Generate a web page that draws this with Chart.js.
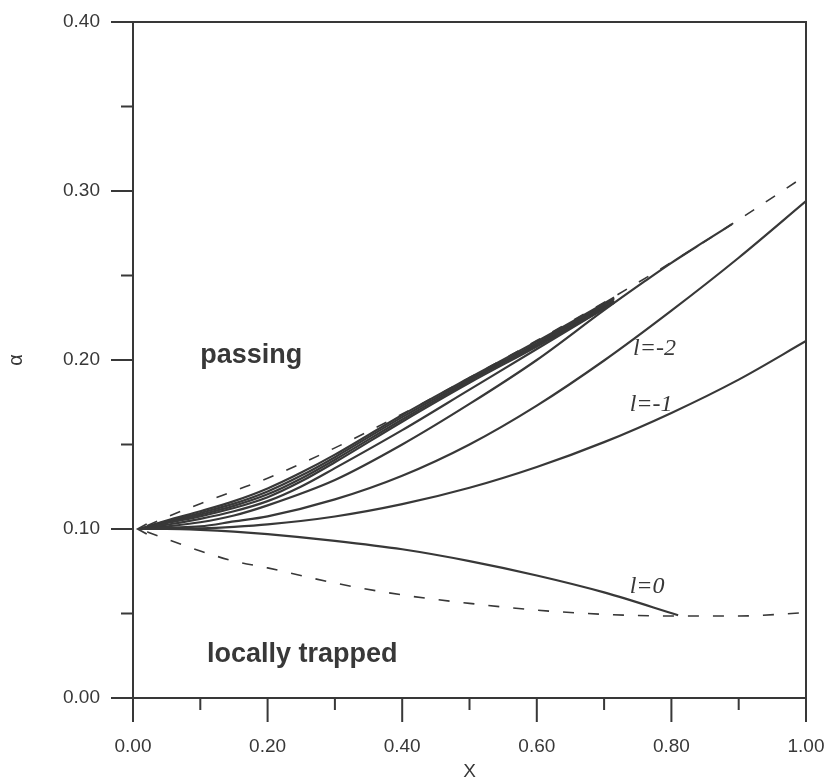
<!DOCTYPE html>
<html>
<head>
<meta charset="utf-8">
<script src="https://cdn.jsdelivr.net/npm/chart.js@4"></script>
<style>
  html, body { margin: 0; padding: 0; background: #fff; }
  canvas { display: block; }
</style>
</head>
<body>
<canvas id="chart" width="831" height="783"></canvas>
<script>
// values (x = X, y = alpha)
const xFull = [0.01, 0.05, 0.10, 0.15, 0.20, 0.30, 0.40, 0.50, 0.60, 0.70, 0.80, 0.90, 1.00];
const upperEdge = [0.100, 0.107, 0.115, 0.1225, 0.130, 0.148, 0.168, 0.1895, 0.2115, 0.2340, 0.2578, 0.2830, 0.3093];
const lowerEdge = [0.100, 0.094, 0.087, 0.081, 0.077, 0.068, 0.061, 0.056, 0.052, 0.0495, 0.0485, 0.0485, 0.0505];
const lMinus1 = [0.100, 0.1001, 0.1004, 0.1013, 0.1027, 0.1074, 0.1147, 0.1244, 0.1367, 0.1514, 0.1687, 0.1884, 0.2112];
const lMinus2 = [0.100, 0.1008, 0.1015, 0.1045, 0.1075, 0.1175, 0.1315, 0.150, 0.173, 0.1997, 0.2292, 0.2605, 0.294];

const xL0 = [0.01, 0.05, 0.10, 0.15, 0.20, 0.30, 0.40, 0.50, 0.60, 0.70, 0.81];
const l0 = [0.100, 0.100, 0.0995, 0.0985, 0.097, 0.093, 0.088, 0.081, 0.0725, 0.0625, 0.049];

// l=-3 runs onto the upper edge and follows it to X = 0.89
const xL3 = [0.01, 0.05, 0.10, 0.15, 0.20, 0.30, 0.40, 0.50, 0.60, 0.70, 0.76, 0.80, 0.85, 0.89];
const lMinus3 = [0.100, 0.1015, 0.104, 0.108, 0.114, 0.129, 0.150, 0.174, 0.200, 0.2295, 0.2465, 0.2575, 0.2703, 0.2804];

// the tight bundle that runs into the upper edge near X = 0.71
const xBundle = [0.01, 0.05, 0.10, 0.15, 0.20, 0.25, 0.30, 0.40, 0.50, 0.60, 0.70, 0.715];
const lMinus4 = [0.100, 0.1025, 0.106, 0.1105, 0.1165, 0.1252, 0.1360, 0.1585, 0.1825, 0.2065, 0.2305, 0.2340];
const lMinus5 = [0.100, 0.1035, 0.1075, 0.1124, 0.1188, 0.1282, 0.1395, 0.1635, 0.1865, 0.2080, 0.2305, 0.2340];
const lMinus6 = [0.100, 0.104, 0.1085, 0.1137, 0.1205, 0.1299, 0.1410, 0.1648, 0.1875, 0.2090, 0.2315, 0.2350];
const lMinus7 = [0.100, 0.1045, 0.1095, 0.1150, 0.1222, 0.1316, 0.1425, 0.1662, 0.1885, 0.2100, 0.2325, 0.2360];
const lMinus8 = [0.100, 0.105, 0.1105, 0.1165, 0.1240, 0.1334, 0.1440, 0.1675, 0.1895, 0.2110, 0.2335, 0.2370];

const xMajorTicks = [0, 0.2, 0.4, 0.6, 0.8, 1.0];
const xMinorTicks = [0.1, 0.3, 0.5, 0.7, 0.9];
const yMajorTicks = [0, 0.1, 0.2, 0.3, 0.4];
const yMinorTicks = [0.05, 0.15, 0.25, 0.35];

const ink = '#383838';

const notes = [
    { text: 'passing', x: 0.10, y: 0.198, font: 'bold 27px "Liberation Sans", Arial, sans-serif' },
    { text: 'locally trapped', x: 0.110, y: 0.0213, font: 'bold 27px "Liberation Sans", Arial, sans-serif' },
    { text: 'l=-2', x: 0.743, y: 0.203, font: 'italic 24px "Liberation Serif", "Times New Roman", serif' },
    { text: 'l=-1', x: 0.738, y: 0.170, font: 'italic 24px "Liberation Serif", "Times New Roman", serif' },
    { text: 'l=0', x: 0.738, y: 0.062, font: 'italic 24px "Liberation Serif", "Times New Roman", serif' }
];

function pts(xs, ys) {
    return xs.map((x, i) => ({ x, y: ys[i] }));
}

function solid(xs, ys) {
    return {
        data: pts(xs, ys),
        borderColor: ink,
        borderWidth: 2.2,
        pointRadius: 0,
        showLine: true,
        fill: false,
        cubicInterpolationMode: 'monotone'
    };
}

function dashed(xs, ys) {
    return {
        data: pts(xs, ys),
        borderColor: ink,
        borderWidth: 1.6,
        borderDash: [11, 14],
        borderDashOffset: -8,
        pointRadius: 0,
        showLine: true,
        fill: false,
        cubicInterpolationMode: 'monotone'
    };
}

const paperPlugin = {
    id: 'paper',
    afterDraw(chart) {
        const { ctx, chartArea: a, scales: { x, y } } = chart;
        ctx.save();
        ctx.strokeStyle = ink;
        ctx.lineWidth = 2;
        ctx.strokeRect(a.left, a.top, a.right - a.left, a.bottom - a.top);

        ctx.beginPath();
        xMajorTicks.forEach(v => {
            const px = x.getPixelForValue(v);
            ctx.moveTo(px, a.bottom); ctx.lineTo(px, a.bottom + 24);
        });
        xMinorTicks.forEach(v => {
            const px = x.getPixelForValue(v);
            ctx.moveTo(px, a.bottom); ctx.lineTo(px, a.bottom + 12);
        });
        yMajorTicks.forEach(v => {
            const py = y.getPixelForValue(v);
            ctx.moveTo(a.left, py); ctx.lineTo(a.left - 22, py);
        });
        yMinorTicks.forEach(v => {
            const py = y.getPixelForValue(v);
            ctx.moveTo(a.left, py); ctx.lineTo(a.left - 12, py);
        });
        ctx.stroke();

        // small open arrow where the curves meet
        const sx = x.getPixelForValue(xFull[0]) - 2;
        const sy = y.getPixelForValue(upperEdge[0]);
        ctx.lineWidth = 1.8;
        ctx.beginPath();
        ctx.moveTo(sx + 9, sy - 5);
        ctx.lineTo(sx, sy);
        ctx.lineTo(sx + 9, sy + 5);
        ctx.stroke();

        ctx.fillStyle = ink;
        ctx.textAlign = 'left';
        ctx.textBaseline = 'alphabetic';
        notes.forEach(n => {
            ctx.font = n.font;
            ctx.fillText(n.text, x.getPixelForValue(n.x), y.getPixelForValue(n.y));
        });
        ctx.restore();
    }
};

const tickFont = { family: '"Liberation Sans", Arial, sans-serif', size: 19 };

new Chart(document.getElementById('chart'), {
    type: 'scatter',
    data: {
        datasets: [
            dashed(xFull, upperEdge),
            dashed(xFull, lowerEdge),
            solid(xL0, l0),
            solid(xFull, lMinus1),
            solid(xFull, lMinus2),
            solid(xL3, lMinus3),
            solid(xBundle, lMinus4),
            solid(xBundle, lMinus5),
            solid(xBundle, lMinus6),
            solid(xBundle, lMinus7),
            solid(xBundle, lMinus8)
        ]
    },
    options: {
        responsive: false,
        animation: false,
        events: [],
        layout: { padding: { top: 22, right: 25, left: 0, bottom: 0 } },
        plugins: { legend: { display: false }, tooltip: { enabled: false } },
        scales: {
            x: {
                type: 'linear',
                min: 0,
                max: 1,
                afterFit: s => {
                    s.height = 85;
                    s.paddingLeft = 0; s.paddingRight = 0;
                },
                grid: { display: false, drawTicks: false, tickLength: 0 },
                border: { display: false },
                ticks: {
                    stepSize: 0.2,
                    autoSkip: false,
                    maxRotation: 0,
                    padding: 37,
                    color: ink,
                    font: tickFont,
                    callback: v => v.toFixed(2)
                },
                title: {
                    display: true,
                    text: 'X',
                    color: ink,
                    font: tickFont,
                    padding: { top: 0, bottom: 0 }
                }
            },
            y: {
                type: 'linear',
                min: 0,
                max: 0.4,
                afterFit: s => {
                    s.width = 133;
                    s.paddingTop = 0; s.paddingBottom = 0;
                },
                grid: { display: false, drawTicks: false, tickLength: 0 },
                border: { display: false },
                ticks: {
                    stepSize: 0.1,
                    autoSkip: false,
                    padding: 33,
                    color: ink,
                    font: tickFont,
                    callback: v => v.toFixed(2)
                },
                title: {
                    display: true,
                    text: 'α',
                    color: ink,
                    font: { family: '"Liberation Sans", Arial, sans-serif', size: 20 },
                    padding: { top: 4, bottom: 0 }
                }
            }
        }
    },
    plugins: [paperPlugin]
});
</script>
</body>
</html>
